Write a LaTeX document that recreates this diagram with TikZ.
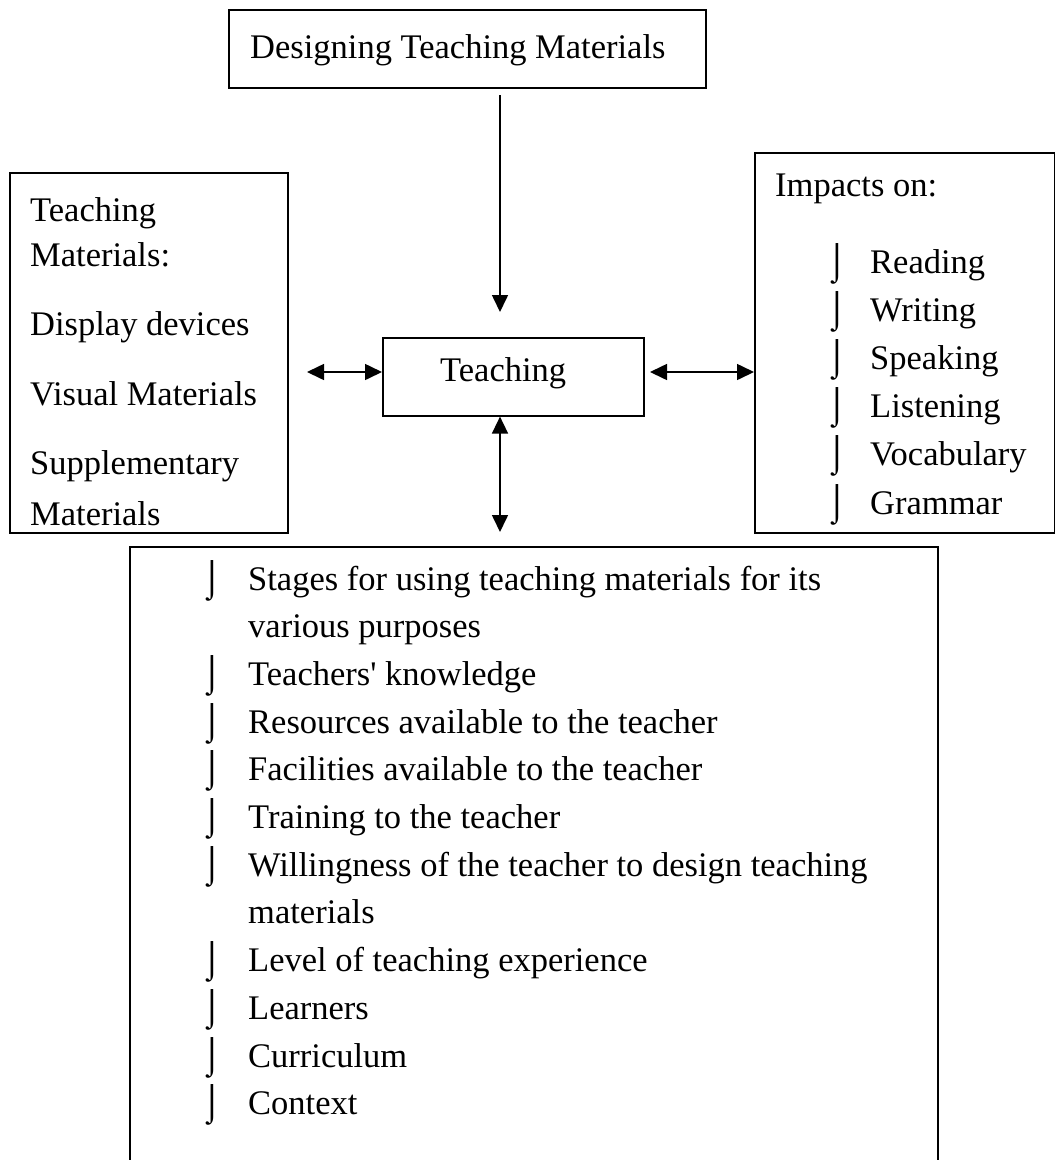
\documentclass[tikz,border=0pt]{standalone}
\usepackage{fontspec}
\setmainfont{Liberation Serif}
\usepackage{tikz}
\usetikzlibrary{arrows.meta,positioning}
\newcommand{\hookbul}{⌡}
\tikzset{
    box/.style={draw, line width=1.6pt, inner sep=0pt, anchor=north west},
    txt/.style={anchor=base west, inner sep=0pt, font=\fontsize{34.5}{42}\selectfont},
    bul/.style={anchor=base west, inner sep=0pt, font=\fontsize{36}{42}\selectfont},
    dbl/.style={line width=1.6pt, {Triangle[length=17pt,width=16pt]}-{Triangle[length=17pt,width=16pt]}},
    one/.style={line width=1.6pt, -{Triangle[length=17pt,width=16pt]}}
}
\begin{document}
\begin{tikzpicture}[x=1pt, y=-1pt]
            \useasboundingbox (0,0) rectangle (1055,1160);

            % Boxes
            \node[box, minimum width=477pt, minimum height=78pt] (design) at (228,9) {};
            \node[box, minimum width=278pt, minimum height=360pt] (matbox) at (9,172) {};
            \node[box, minimum width=261pt, minimum height=78pt] (teach) at (382,337) {};
            \node[box, minimum width=300pt, minimum height=380pt] (impacts) at (754,152) {};
            \node[box, minimum width=808pt, minimum height=650pt] (factors) at (129,546) {};

            % Top box text
            \node[txt] (designlbl) at (250,58) {Designing Teaching Materials};

            % Teaching
            \node[txt] (teachlbl) at (440,381) {Teaching};

            % Left box text
            \node[txt] (mat1) at (30,221) {Teaching};
            \node[txt] (mat2) at (30,266) {Materials:};
            \node[txt] (mat3) at (30,335) {Display devices};
            \node[txt] (mat4) at (30,405) {Visual Materials};
            \node[txt] (mat5) at (30,474) {Supplementary};
            \node[txt] (mat6) at (30,525) {Materials};

            % Right box text
            \node[txt] (imphead) at (775,196) {Impacts on:};
            \node[bul] (ib1) at (826,273) {\hookbul};
            \node[txt] (imp1) at (870,273) {Reading};
            \node[bul] (ib2) at (826,321.2) {\hookbul};
            \node[txt] (imp2) at (870,321.2) {Writing};
            \node[bul] (ib3) at (826,369.4) {\hookbul};
            \node[txt] (imp3) at (870,369.4) {Speaking};
            \node[bul] (ib4) at (826,417.6) {\hookbul};
            \node[txt] (imp4) at (870,417.6) {Listening};
            \node[bul] (ib5) at (826,465.8) {\hookbul};
            \node[txt] (imp5) at (870,465.8) {Vocabulary};
            \node[bul] (ib6) at (826,514) {\hookbul};
            \node[txt] (imp6) at (870,514) {Grammar};

            % Bottom box text
            \node[bul] (fb1) at (201,590) {\hookbul};
            \node[txt] (fac1) at (248,590) {Stages for using teaching materials for its};
            \node[txt] (fac1b) at (248,637.7) {various purposes};
            \node[bul] (fb2) at (201,685.4) {\hookbul};
            \node[txt] (fac2) at (248,685.4) {Teachers\textquotesingle{} knowledge};
            \node[bul] (fb3) at (201,733.1) {\hookbul};
            \node[txt] (fac3) at (248,733.1) {Resources available to the teacher};
            \node[bul] (fb4) at (201,780.8) {\hookbul};
            \node[txt] (fac4) at (248,780.8) {Facilities available to the teacher};
            \node[bul] (fb5) at (201,828.5) {\hookbul};
            \node[txt] (fac5) at (248,828.5) {Training to the teacher};
            \node[bul] (fb6) at (201,876.2) {\hookbul};
            \node[txt] (fac6) at (248,876.2) {Willingness of the teacher to design teaching};
            \node[txt] (fac6b) at (248,923.9) {materials};
            \node[bul] (fb7) at (201,971.6) {\hookbul};
            \node[txt] (fac7) at (248,971.6) {Level of teaching experience};
            \node[bul] (fb8) at (201,1019.3) {\hookbul};
            \node[txt] (fac8) at (248,1019.3) {Learners};
            \node[bul] (fb9) at (201,1067) {\hookbul};
            \node[txt] (fac9) at (248,1067) {Curriculum};
            \node[bul] (fb10) at (201,1114.7) {\hookbul};
            \node[txt] (fac10) at (248,1114.7) {Context};

            % Arrows
            \coordinate (dtop) at (500,95);
            \coordinate (dtip) at (500,312);
            \draw[one] (dtop) -- (dtip);
            \coordinate (ltip) at (307,372);
            \draw[dbl] (ltip) -- (ltip -| teach.west);
            \coordinate (rtip) at (650,372);
            \draw[dbl] (rtip) -- (rtip -| impacts.west);
            \coordinate (vtip) at (500,532);
            \draw[dbl] (vtip |- teach.south) -- (vtip);
        \end{tikzpicture}
\end{document}
